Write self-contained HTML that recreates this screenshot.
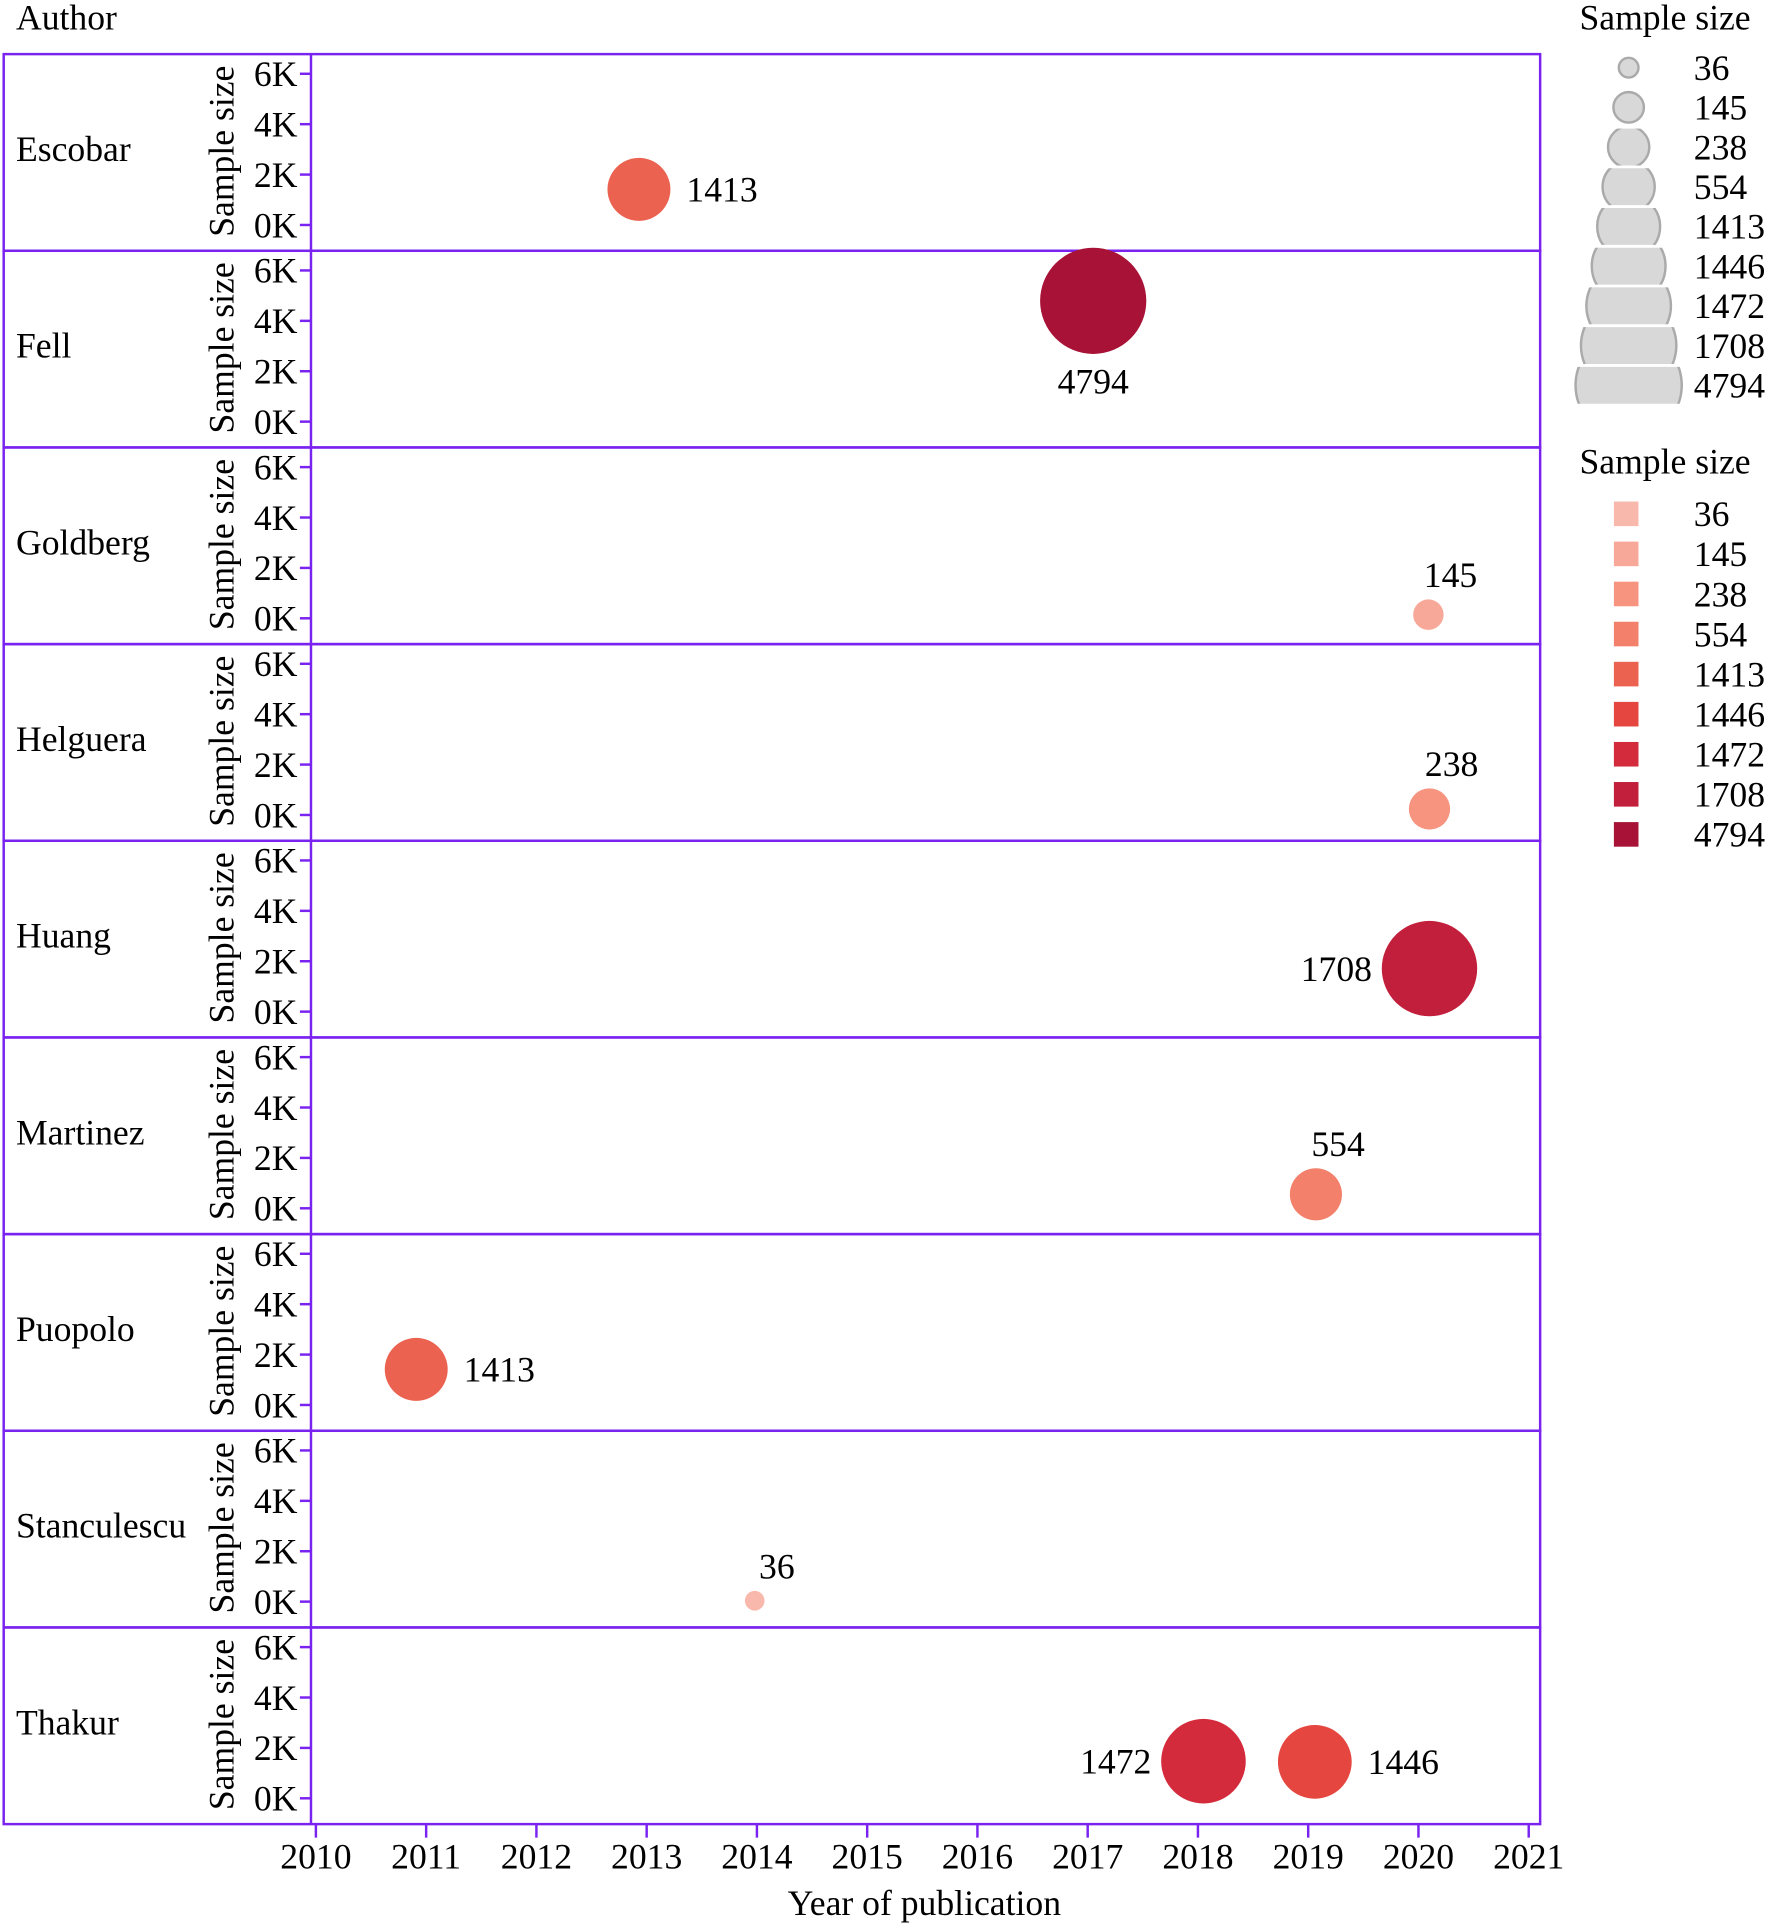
<!DOCTYPE html>
<html><head><meta charset="utf-8"><style>
html,body{margin:0;padding:0;background:#fff;}
svg{display:block;font-family:"Liberation Serif",serif;}
</style></head><body>
<svg id="chart" width="1770" height="1929" viewBox="0 0 1440 1569.3" xmlns="http://www.w3.org/2000/svg">
<text x="13" y="24" font-size="29">Author</text>
<text x="752" y="1558" font-size="29" text-anchor="middle">Year of publication</text>
<g id="panels"></g>
<g id="xaxis"></g>
<g id="legend1"></g>
<g id="legend2"></g>
</svg>
<script>
const authors = ["Escobar","Fell","Goldberg","Helguera","Huang","Martinez","Puopolo","Stanculescu","Thakur"];
const pointAuthors = ["Escobar","Fell","Goldberg","Helguera","Huang","Martinez","Puopolo","Stanculescu","Thakur","Thakur"];
const pointYears = [2012.93,2017.05,2020.09,2020.1,2020.1,2019.07,2010.91,2013.98,2018.05,2019.06];
const pointSizes = [1413,4794,145,238,1708,554,1413,36,1472,1446];
const labelSides = ["right","below","above","above","left","above","right","above","left","right"];
const sizeLevels = [36,145,238,554,1413,1446,1472,1708,4794];
const sizeColors = ["#f8b9ac","#f7a898","#f6947f","#f2806a","#ec6250","#e5463f","#d42b3c","#c21f3c","#a81237"];
const xTicks = [2010,2011,2012,2013,2014,2015,2016,2017,2018,2019,2020,2021];
const yTicks = [0,2000,4000,6000];
const yTickLabels = ["0K","2K","4K","6K"];

const NS="http://www.w3.org/2000/svg";
const PURPLE="#7a22f0";
const FS=29;
const top0=44, panelH=160, left=253, right=1253, outerLeft=3;
function xScale(y){return 257+89.7*(y-2010);}
function yScale(v,top){return top+139-v*20.5/1000;}
function rScale(s){return 8+sizeLevels.indexOf(s)*4.4;}
function colorOf(s){return sizeColors[sizeLevels.indexOf(s)];}
function mk(tag,attrs,parent){const e=document.createElementNS(NS,tag);for(const k in attrs)e.setAttribute(k,attrs[k]);parent.appendChild(e);return e;}

const panels=document.getElementById('panels');
authors.forEach((a,i)=>{
  const top=top0+i*panelH;
  const g=mk('g',{},panels);
  
  
  const r=mk('rect',{x:outerLeft,y:top,width:right-outerLeft,height:panelH,fill:"none",stroke:PURPLE,"stroke-width":2},g);
  
  
  const ax=mk('line',{x1:left,x2:left,y1:top,y2:top+panelH,stroke:PURPLE,"stroke-width":2},g);
  
  
  const t=mk('text',{x:13,y:top+87,"font-size":FS},g);t.textContent=a;
  
  
  const cy=top+79;
  const yt=mk('text',{x:0,y:0,"font-size":FS,"text-anchor":"middle",transform:`translate(190,${cy}) rotate(-90)`},g);yt.textContent="Sample size";
  
  
  yTicks.forEach((v,j)=>{
    const y=yScale(v,top);
    const l=mk('line',{x1:left-9,x2:left,y1:y,y2:y,stroke:PURPLE,"stroke-width":2},g);
    
    
    const tl=mk('text',{x:left-11,y:y+10,"font-size":FS,"text-anchor":"end"},g);tl.textContent=yTickLabels[j];
    
    
  });
});
pointAuthors.forEach((a,i)=>{
  const top=top0+authors.indexOf(a)*panelH;
  const cx=xScale(pointYears[i]), cy=yScale(pointSizes[i],top), r=rScale(pointSizes[i]);
  const c=mk('circle',{cx:cx,cy:cy,r:r,fill:colorOf(pointSizes[i])},panels);
  
  
  let tx=cx,ty=cy+10,anchor="middle";
  const side=labelSides[i];
  if(side==="right"){tx=cx+r+13;anchor="start";}
  else if(side==="left"){tx=cx-r-8;anchor="end";}
  else if(side==="above"){tx=cx+18;ty=cy-r-10;}
  else if(side==="below"){ty=cy+r+32;}
  const lt=mk('text',{x:tx,y:ty,"font-size":FS,"text-anchor":anchor},panels);lt.textContent=pointSizes[i];
  
  
});
const xa=document.getElementById('xaxis');
const bottom=top0+authors.length*panelH;
xTicks.forEach(y=>{
  const x=xScale(y);
  const l=mk('line',{x1:x,x2:x,y1:bottom,y2:bottom+11,stroke:PURPLE,"stroke-width":2},xa);
  
  
  const t=mk('text',{x:x,y:bottom+36,"font-size":FS,"text-anchor":"middle"},xa);t.textContent=y;
  
  
});
const l1=document.getElementById('legend1');
const h1=mk('text',{x:1285,y:24,"font-size":FS},l1);h1.textContent="Sample size";


const defs=mk('defs',{},l1);
sizeLevels.forEach((s,i)=>{
  const cy=55+i*32.3, r=rScale(s);
  const cp=mk('clipPath',{id:'cp'+i},defs);
  mk('rect',{x:1200,y:cy-15,width:250,height:30},cp);
  const c=mk('circle',{cx:1325,cy:cy,r:r,fill:"#d8d8d8",stroke:"#aaa","stroke-width":2,"clip-path":`url(#cp${i})`},l1);
  
  
  const t=mk('text',{x:1378,y:cy+10,"font-size":FS},l1);t.textContent=s;
  
  
});
const l2=document.getElementById('legend2');
const h2=mk('text',{x:1285,y:385,"font-size":FS},l2);h2.textContent="Sample size";


sizeLevels.forEach((s,i)=>{
  const cy=418+i*32.6;
  const r=mk('rect',{x:1313,y:cy-10,width:20,height:20,fill:sizeColors[i]},l2);
  
  
  const t=mk('text',{x:1378,y:cy+10,"font-size":FS},l2);t.textContent=s;
  
  
});
</script>
</body></html>
